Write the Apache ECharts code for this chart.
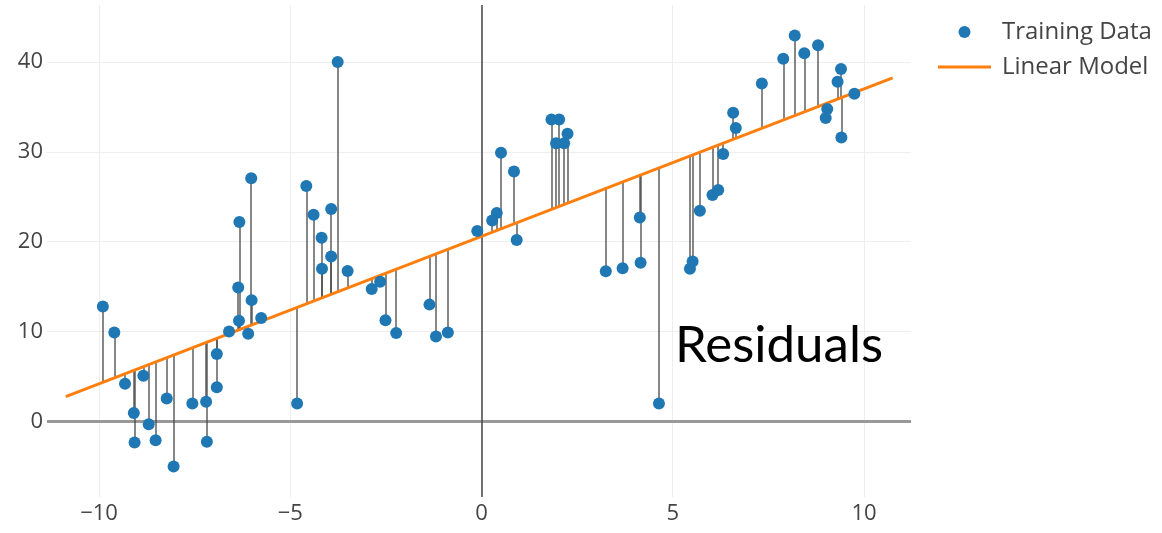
<!DOCTYPE html>
<html>
<head>
<meta charset="utf-8">
<script src="https://cdn.jsdelivr.net/npm/echarts@6/dist/echarts.min.js"></script>
<style>
  html, body { margin: 0; padding: 0; background: #fff; }
  #chart { width: 1162px; height: 533px; }
</style>
</head>
<body>
<div id="chart"></div>
<script>
// Training observations (x, y)
const trainX = [
  -9.90, -9.60, -9.32, -9.09, -9.07, -8.84, -8.70, -8.52, -8.23, -8.05,
  -7.56, -7.20, -7.18, -6.92, -6.92, -6.60, -6.36, -6.34, -6.33, -6.10,
  -6.02, -6.01, -5.76, -4.82, -4.58, -4.39, -4.18, -4.17, -3.93, -3.93,
  -3.76, -3.50, -2.87, -2.65, -2.51, -2.23, -1.36, -1.19, -0.88, -0.11,
   0.28,  0.40,  0.51,  0.85,  0.92,  1.83,  2.03,  1.95,  2.16,  2.25,
   3.25,  3.69,  4.14,  4.16,  4.64,  5.45,  5.52,  5.71,  6.04,  6.19,
   6.32,  6.58,  6.65,  7.33,  7.89,  8.19,  8.44,  8.80,  9.04,  9.00,
   9.31,  9.40,  9.41,  9.75
];
const trainY = [
  12.8,  9.9,  4.2,  0.95, -2.35,  5.1, -0.3, -2.1,  2.55, -5.0,
   2.0,  2.2, -2.25,  7.5,  3.8, 10.0, 14.9, 11.2, 22.2,  9.75,
  27.05, 13.5, 11.5,  2.0, 26.2, 23.0, 20.45, 17.0, 23.65, 18.35,
  40.0, 16.75, 14.75, 15.55, 11.25,  9.85, 13.0,  9.45,  9.9, 21.2,
  22.35, 23.2, 29.9, 27.8, 20.2, 33.6, 33.6, 30.95, 30.95, 32.0,
  16.7, 17.05, 22.7, 17.65,  2.0, 17.0, 17.8, 23.45, 25.2, 25.75,
  29.75, 34.35, 32.65, 37.6, 40.35, 42.95, 40.95, 41.85, 34.75, 33.75,
  37.8, 39.2, 31.6, 36.45
];

// Fitted linear model
const modelIntercept = 20.6;
const modelSlope = 1.64;
const modelXRange = [-10.87, 10.75];

// Axes
const xRange = [-11.36, 11.23];
const yRange = [-8.40, 46.33];
const xTicks = [-10, -5, 0, 5, 10];
const yTicks = [0, 10, 20, 30, 40];

const predict = x => modelIntercept + modelSlope * x;
const points = trainX.map((x, i) => [x, trainY[i]]);
const modelLine = modelXRange.map(x => [x, predict(x)]);
const residuals = trainX.map((x, i) => ({ coords: [[x, trainY[i]], [x, predict(x)]] }));

const tickFont = { fontFamily: '"Open Sans", sans-serif', fontSize: 22, color: '#444' };
const minus = v => (v < 0 ? '\u2212' + Math.abs(v) : String(v));

const chart = echarts.init(document.getElementById('chart'), null, { renderer: 'canvas' });
chart.setOption({
  animation: false,
  backgroundColor: '#fff',
  grid: { left: 47, top: 5, width: 864, height: 492, containLabel: false },
  xAxis: {
    type: 'value',
    min: xRange[0], max: xRange[1],
    axisLine: { show: false },
    axisTick: { show: false, customValues: xTicks },
    axisLabel: Object.assign({ customValues: xTicks, margin: 6, formatter: minus }, tickFont),
    splitLine: { show: true, lineStyle: { color: '#eee', width: 1 } }
  },
  yAxis: {
    type: 'value',
    min: yRange[0], max: yRange[1],
    axisLine: { show: false },
    axisTick: { show: false, customValues: yTicks },
    axisLabel: Object.assign({ customValues: yTicks, margin: 4, formatter: minus }, tickFont),
    splitLine: { show: true, lineStyle: { color: '#eee', width: 1 } }
  },
  legend: {
    orient: 'vertical',
    left: 938, top: 20, padding: 0,
    itemWidth: 53, itemHeight: 12, itemGap: 11,
    textStyle: { fontFamily: '"Open Sans", sans-serif', fontSize: 24, color: '#444', lineHeight: 22, padding: [0, 0, 0, 6] },
    data: [
      { name: 'Training Data', icon: 'circle' },
      { name: 'Linear Model', icon: 'path://M0,0 L53,0 L53,3 L0,3 Z', itemStyle: { color: '#ff7f0e' } }
    ]
  },
  graphic: [{
    type: 'text',
    left: 675, top: 320,
    style: { text: 'Residuals', font: '51px Lato, sans-serif', fill: '#000' },
    z: 100
  }],
  series: [
    {
      name: 'residuals',
      type: 'lines',
      coordinateSystem: 'cartesian2d',
      silent: true,
      z: 2,
      lineStyle: { color: 'rgba(70,70,70,0.65)', width: 2, opacity: 1 },
      data: residuals
    },
    {
      name: 'Linear Model',
      type: 'line',
      showSymbol: false,
      symbol: 'none',
      z: 3,
      lineStyle: { color: '#ff7f0e', width: 3 },
      itemStyle: { color: '#ff7f0e' },
      data: modelLine,
      markLine: {
        silent: true,
        z: 1,
        symbol: ['none', 'none'],
        label: { show: false },
        data: [
          { yAxis: 0, lineStyle: { color: '#999', width: 3, type: 'solid' } },
          { xAxis: 0, lineStyle: { color: '#444', width: 1.5, type: 'solid' } }
        ]
      }
    },
    {
      name: 'Training Data',
      type: 'scatter',
      z: 4,
      symbolSize: 12,
      itemStyle: { color: '#1f77b4', opacity: 1 },
      data: points
    }
  ]
});
</script>
</body>
</html>
